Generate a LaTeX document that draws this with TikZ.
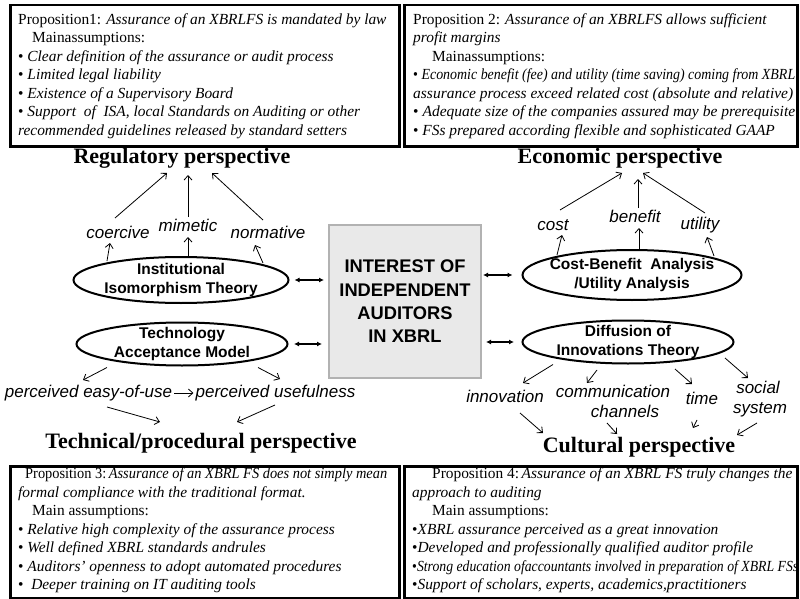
\documentclass[tikz,border=0pt]{standalone}
\usepackage{fontspec}
\setmainfont{Liberation Serif}
\setsansfont{Liberation Sans}
\usepackage{graphicx}
\usetikzlibrary{shapes.geometric,arrows.meta}

\tikzset{
  frame/.style={draw, line width=2.5pt, rectangle, inner sep=0pt, anchor=north west},
  boxtext/.style={anchor=north west, inner sep=0pt, align=left, font=\fontsize{15.4}{18.5}\selectfont},
  theory/.style={ellipse, draw, line width=2pt, inner sep=0pt},
  theorytext/.style={inner sep=0pt, align=center, font=\sffamily\bfseries\fontsize{15.5}{19}\selectfont},
  persp/.style={font=\bfseries\fontsize{22}{24}\selectfont, inner sep=0pt, anchor=base},
  lbl/.style={font=\sffamily\itshape\fontsize{17}{20}\selectfont, inner sep=0pt, anchor=base, text height=12pt, text depth=4pt},
  arr/.style={-{Straight Barb[length=4.5pt,width=8pt]}, line width=0.8pt},
  dbl/.style={{Latex[length=5pt,width=5pt]}-{Latex[length=5pt,width=5pt]}, line width=1.1pt},
}

\begin{document}
\begin{tikzpicture}[x=1pt,y=-1pt]
\useasboundingbox (0,0) rectangle (800,599);

% proposition frames
\node[frame, minimum width=389pt, minimum height=141pt] (p1box) at (9,4) {};
\node[frame, minimum width=393pt, minimum height=141pt] (p2box) at (403,4) {};
\node[frame, minimum width=389pt, minimum height=132pt] (p3box) at (9,465) {};
\node[frame, minimum width=393pt, minimum height=132pt] (p4box) at (403,465) {};

\node[boxtext] (p1) at (18,11) {\strut Proposition1: \textit{Assurance of an XBRLFS is mandated by law}\\
\hspace*{14pt}Mainassumptions:\\
• \textit{Clear definition of the assurance or audit process}\\
• \textit{Limited legal liability}\\
• \textit{Existence of a Supervisory Board}\\
• \textit{Support\ \ of\ \ ISA, local Standards on Auditing or other}\\
\textit{recommended guidelines released by standard setters}};

\node[boxtext] (p2) at (413,11) {\strut Proposition 2: \textit{Assurance of an XBRLFS allows sufficient}\\
\textit{profit margins}\\
\hspace*{19pt}Mainassumptions:\\
\resizebox{382pt}{\height}{• \textit{Economic benefit (fee) and utility (time saving) coming from XBRL}}\\
\resizebox{380pt}{\height}{\textit{assurance process exceed related cost (absolute and relative)}}\\
\resizebox{382pt}{\height}{• \textit{Adequate size of the companies assured may be prerequisite}}\\
• \textit{FSs prepared according flexible and sophisticated GAAP}};

\node[boxtext] (p3) at (18,465.5) {\strut\hspace*{7pt}\resizebox{362pt}{\height}{Proposition 3:\,\textit{Assurance of an XBRL FS does not simply mean}}\\
\textit{formal compliance with the traditional format.}\\
\hspace*{14pt}Main assumptions:\\
• \textit{Relative high complexity of the assurance process}\\
• \textit{Well defined XBRL standards andrules}\\
• \textit{Auditors’ openness to adopt automated procedures}\\
•\ \ \textit{Deeper training on IT auditing tools}};

\node[boxtext] (p4) at (412,465.5) {\strut\hspace*{20pt}Proposition 4:\,\textit{Assurance of an XBRL FS truly changes the}\\
\textit{approach to auditing}\\
\hspace*{20pt}Main assumptions:\\
•\textit{XBRL assurance perceived as a great innovation}\\
•\textit{Developed and professionally qualified auditor profile}\\
\resizebox{386pt}{\height}{•\textit{Strong education ofaccountants involved in preparation of XBRL FSs}}\\
•\textit{Support of scholars, experts, academics,practitioners}};

% central box
\node[draw=gray!60, fill=gray!17, line width=2pt, minimum width=152pt, minimum height=153pt,
      inner sep=0pt, align=center, font=\sffamily\bfseries\fontsize{18.3}{23.3}\selectfont]
      (core) at (405,301.5) {INTEREST OF\\INDEPENDENT\\AUDITORS\\IN XBRL};

% theories
\node[theory, minimum width=215pt, minimum height=46pt] (inst) at (181,280) {};
\node[theorytext] (instt) at (inst) {Institutional\\Isomorphism Theory};
\node[theory, minimum width=211pt, minimum height=43pt] (tam) at (182,344) {};
\node[theorytext] (tamt) at (tam) {Technology\\Acceptance Model};
\node[theory, minimum width=219pt, minimum height=50pt] (cba) at (632,275) {};
\node[theorytext] (cbat) at (cba) {Cost-Benefit\ \ Analysis\\/Utility Analysis};
\node[theory, minimum width=211pt, minimum height=43pt] (dit) at (628,342) {};
\node[theorytext] (ditt) at (dit) {Diffusion of\\Innovations Theory};

% perspectives
\node[persp] (regp) at (182,163) {Regulatory perspective};
\node[persp] (econp) at (620,163) {Economic perspective};
\node[persp] (techp) at (201,448) {Technical/procedural perspective};
\node[persp] (cultp) at (639,452) {Cultural perspective};

% mechanisms
\node[lbl] (coer) at (118,238) {coercive};
\node[lbl] (mim) at (188,231) {mimetic};
\node[lbl] (norm) at (268,238) {normative};
\node[lbl] (cost) at (553,230) {cost};
\node[lbl] (bene) at (635,222) {benefit};
\node[lbl] (util) at (700,229) {utility};
\node[lbl] (peu) at (88.5,397) {perceived easy-of-use};
\node[lbl] (pu) at (275.5,397) {perceived usefulness};
\node[lbl] (innov) at (505,402) {innovation};
\node[lbl] (comm) at (613,397) {communication};
\node[lbl] (chan) at (625,417) {channels};
\node[lbl] (time) at (702,404) {time};
\node[lbl] (soc) at (758,393) {social};
\node[lbl] (sys) at (760,413) {system};

% regulatory branch
\draw[arr] ([shift={(-3,-20)}]coer.base) -- ([shift={(-15,10)}]regp.base);
\draw[arr] ([shift={(0,-14)}]mim.base) -- ([shift={(6,12)}]regp.base);
\draw[arr] ([shift={(-5,-18)}]norm.base) -- ([shift={(30,10)}]regp.base);
\draw[arr] ([shift={(-74,5)}]inst.north) -- ([shift={(-8,5)}]coer.base);
\draw[arr] ([shift={(7,0)}]inst.north) -- ([shift={(0,6)}]mim.base);
\draw[arr] ([shift={(82,7)}]inst.north) -- ([shift={(-13,7)}]norm.base);

% economic branch
\draw[arr] ([shift={(7,-20)}]cost.base) -- ([shift={(2,10)}]econp.base);
\draw[arr] ([shift={(3,-14)}]bene.base) -- ([shift={(18,16)}]econp.base);
\draw[arr] ([shift={(5,-16)}]util.base) -- ([shift={(23,10)}]econp.base);
\draw[arr] ([shift={(-75,6)}]cba.north) -- ([shift={(9,5)}]cost.base);
\draw[arr] ([shift={(7,0)}]cba.north) -- ([shift={(4,6)}]bene.base);
\draw[arr] ([shift={(82,7)}]cba.north) -- ([shift={(7,8)}]util.base);

% technical branch
\draw[arr] ([shift={(-75,1)}]tam.south) -- ([shift={(-5.5,-17)}]peu.base);
\draw[arr] ([shift={(76,1)}]tam.south) -- ([shift={(4.5,-18)}]pu.base);
\draw[arr, shorten <=2pt, shorten >=2pt] (peu.east) -- (pu.west);
\draw[arr] ([shift={(18.5,10)}]peu.base) -- ([shift={(-41,-26)}]techp.base);
\draw[arr] ([shift={(-0.5,8)}]pu.base) -- ([shift={(36,-26)}]techp.base);

% cultural branch
\draw[arr] ([shift={(-75,0)}]dit.south) -- ([shift={(18,-19)}]innov.base);
\draw[arr] ([shift={(-31,5.5)}]dit.south) -- ([shift={(-26,-14)}]comm.base);
\draw[arr] ([shift={(47,4.5)}]dit.south) -- ([shift={(-10,-20)}]time.base);
\draw[arr] ([shift={(97,-6.5)}]dit.south) -- ([shift={(-10,-15)}]soc.base);
\draw[arr] ([shift={(15,11)}]innov.base) -- ([shift={(-96,-19)}]cultp.base);
\draw[arr] ([shift={(-18,6)}]chan.base) -- ([shift={(-22,-18)}]cultp.base);
\draw[arr] ([shift={(-5,16)}]time.base) -- ([shift={(54,-24)}]cultp.base);
\draw[arr] ([shift={(-3,10)}]sys.base) -- ([shift={(98,-17)}]cultp.base);

% links to the central question
\draw[dbl, shorten <=5pt, shorten >=4pt] (inst.east) -- (inst.east -| core.west);
\draw[dbl, shorten <=5.5pt, shorten >=6pt] (tam.east) -- (tam.east -| core.west);
\draw[dbl, shorten <=1pt, shorten >=9pt] (core.east |- cba.west) -- (cba.west);
\draw[dbl, shorten <=4pt, shorten >=7.5pt] (core.east |- dit.west) -- (dit.west);
\end{tikzpicture}
\end{document}
